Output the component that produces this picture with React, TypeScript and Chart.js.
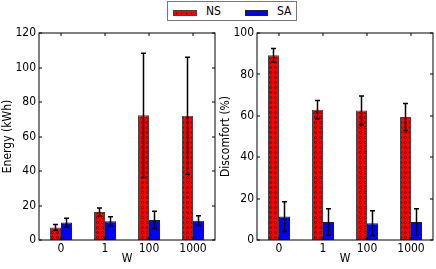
import React, { useEffect, useRef } from "react";
import { Chart, registerables } from "chart.js";
Chart.register(...registerables);

const categories = ["0", "1", "100", "1000"];
const seriesNames = ["NS", "SA"];
const energyNS = [7.3, 16.3, 72.3, 72.0];
const energyNSErr = [1.7, 2.3, 36.0, 34.0];
const energySA = [10.1, 10.9, 11.6, 11.2];
const energySAErr = [2.5, 2.6, 5.0, 2.8];
const discomfortNS = [89.2, 62.9, 62.6, 59.4];
const discomfortNSErr = [3.3, 4.5, 7.0, 6.5];
const discomfortSA = [11.3, 8.7, 8.1, 8.7];
const discomfortSAErr = [7.2, 6.4, 6.0, 6.4];
const energyTicks = { min: 0, max: 120, step: 20 };
const discomfortTicks = { min: 0, max: 100, step: 20 };

const FONT = "'DejaVu Sans Condensed', 'Liberation Sans', 'DejaVu Sans', sans-serif";

function makePattern(): any {
  const c = document.createElement("canvas");
  c.width = 5;
  c.height = 5;
  const ctx = c.getContext("2d")!;
  ctx.fillStyle = "#ff0000";
  ctx.fillRect(0, 0, 5, 5);
  ctx.strokeStyle = "rgba(70,0,0,0.9)";
  ctx.lineWidth = 0.8;
  ctx.beginPath();
  ctx.arc(2.5, 2.5, 1.1, 0, Math.PI * 2);
  ctx.stroke();
  return ctx.createPattern(c, "repeat");
}

const framePlugin = {
  id: "frame",
  afterDraw(chart: any) {
    const { ctx, chartArea: a, scales } = chart;
    ctx.save();
    ctx.strokeStyle = "#000";
    ctx.lineWidth = 1;
    ctx.strokeRect(a.left, a.top, a.right - a.left, a.bottom - a.top);
    const L = 3;
    ctx.beginPath();
    scales.x.ticks.forEach((_: any, i: number) => {
      const px = Math.round(scales.x.getPixelForTick(i));
      ctx.moveTo(px, a.bottom);
      ctx.lineTo(px, a.bottom - L);
      ctx.moveTo(px, a.top);
      ctx.lineTo(px, a.top + L);
    });
    scales.y.ticks.forEach((_: any, i: number) => {
      const py = Math.round(scales.y.getPixelForTick(i));
      ctx.moveTo(a.left, py);
      ctx.lineTo(a.left + L, py);
      ctx.moveTo(a.right, py);
      ctx.lineTo(a.right - L, py);
    });
    ctx.stroke();
    ctx.restore();
  },
};

const errorPlugin = {
  id: "errorbars",
  afterDatasetsDraw(chart: any, _args: any, opts: any) {
    const errs: number[][] = opts.errors || [];
    const { ctx, scales } = chart;
    ctx.save();
    ctx.strokeStyle = "#000";
    ctx.lineWidth = 1.5;
    chart.data.datasets.forEach((ds: any, di: number) => {
      const meta = chart.getDatasetMeta(di);
      meta.data.forEach((el: any, i: number) => {
        const v = ds.data[i];
        const e = errs[di] ? errs[di][i] : 0;
        const yt = scales.y.getPixelForValue(v + e);
        const yb = scales.y.getPixelForValue(v - e);
        const x = el.x;
        ctx.beginPath();
        ctx.moveTo(x, yt);
        ctx.lineTo(x, yb);
        ctx.moveTo(x - 2.5, yt);
        ctx.lineTo(x + 2.5, yt);
        ctx.moveTo(x - 2.5, yb);
        ctx.lineTo(x + 2.5, yb);
        ctx.stroke();
      });
    });
    ctx.restore();
  },
};

function Panel(props: {
  left: number;
  width: number;
  padRight: number;
  ns: number[];
  sa: number[];
  nsErr: number[];
  saErr: number[];
  yTitle: string;
  ticks: { min: number; max: number; step: number };
}) {
  const ref = useRef<HTMLCanvasElement>(null);
  useEffect(() => {
    const chart = new Chart(ref.current!, {
      type: "bar",
      data: {
        labels: categories,
        datasets: [
          {
            label: seriesNames[0],
            data: props.ns,
            backgroundColor: makePattern(),
            borderColor: "#444",
            borderWidth: 1,
          },
          {
            label: seriesNames[1],
            data: props.sa,
            backgroundColor: "#0000ff",
            borderColor: "#222",
            borderWidth: 1,
          },
        ],
      },
      options: {
        responsive: false,
        maintainAspectRatio: false,
        animation: false,
        devicePixelRatio: 1,
        layout: { padding: { top: 33, right: props.padRight, left: 0, bottom: 0 } },
        datasets: { bar: { categoryPercentage: 0.5, barPercentage: 1 } },
        plugins: {
          legend: { display: false },
          tooltip: { enabled: false },
          errorbars: { errors: [props.nsErr, props.saErr] },
        } as any,
        scales: {
          x: {
            grid: { display: false, drawTicks: false },
            border: { display: false },
            ticks: { color: "#000", font: { family: FONT, size: 12 }, padding: 2, maxRotation: 0 },
            title: {
              display: true,
              text: "W",
              color: "#000",
              font: { family: FONT, size: 12 },
              padding: { top: 0, bottom: 3 },
            },
            afterFit: (s: any) => {
              s.height = 29;
            },
          },
          y: {
            min: props.ticks.min,
            max: props.ticks.max,
            grid: { display: false, drawTicks: false },
            border: { display: false },
            ticks: { stepSize: props.ticks.step, color: "#000", font: { family: FONT, size: 12 }, padding: 3 },
            title: {
              display: true,
              text: props.yTitle,
              color: "#000",
              font: { family: FONT, size: 12 },
              padding: { top: 1, bottom: 0 },
            },
            afterFit: (s: any) => {
              s.width = 39;
            },
          },
        },
      },
      plugins: [errorPlugin, framePlugin],
    });
    return () => chart.destroy();
  }, []);
  return (
    <canvas
      ref={ref}
      width={props.width}
      height={269}
      style={{ position: "absolute", left: props.left, top: 0, width: props.width, height: 269 }}
    />
  );
}

export default function App() {
  const textStyle: React.CSSProperties = {
    position: "absolute",
    top: 3,
    fontFamily: FONT,
    fontSize: 12,
    lineHeight: "14px",
    color: "#000",
  };
  return (
    <div style={{ position: "absolute", left: 0, top: 0, width: 436, height: 269, background: "#fff" }}>
      <Panel
        left={0}
        width={220}
        padRight={5}
        ns={energyNS}
        sa={energySA}
        nsErr={energyNSErr}
        saErr={energySAErr}
        yTitle="Energy (kWh)"
        ticks={energyTicks}
      />
      <Panel
        left={218}
        width={218}
        padRight={3}
        ns={discomfortNS}
        sa={discomfortSA}
        nsErr={discomfortNSErr}
        saErr={discomfortSAErr}
        yTitle="Discomfort (%)"
        ticks={discomfortTicks}
      />
      <div
        style={{
          position: "absolute",
          left: 167,
          top: 1,
          width: 130,
          height: 20,
          border: "1px solid #777",
          background: "#fff",
          boxSizing: "border-box",
        }}
      >
        <div
          style={{
            position: "absolute",
            left: 5,
            top: 8,
            width: 24,
            height: 6,
            border: "1px solid #444",
            boxSizing: "border-box",
            background: "radial-gradient(circle, rgba(70,0,0,0.9) 0.7px, transparent 1.2px) 0 0 / 5px 5px, #ff0000",
          }}
        />
        <span style={{ ...textStyle, left: 38, top: 2 }}>{seriesNames[0]}</span>
        <div
          style={{
            position: "absolute",
            left: 77,
            top: 8,
            width: 23,
            height: 6,
            border: "1px solid #222",
            boxSizing: "border-box",
            background: "#0000ff",
          }}
        />
        <span style={{ ...textStyle, left: 109, top: 2 }}>{seriesNames[1]}</span>
      </div>
    </div>
  );
}
